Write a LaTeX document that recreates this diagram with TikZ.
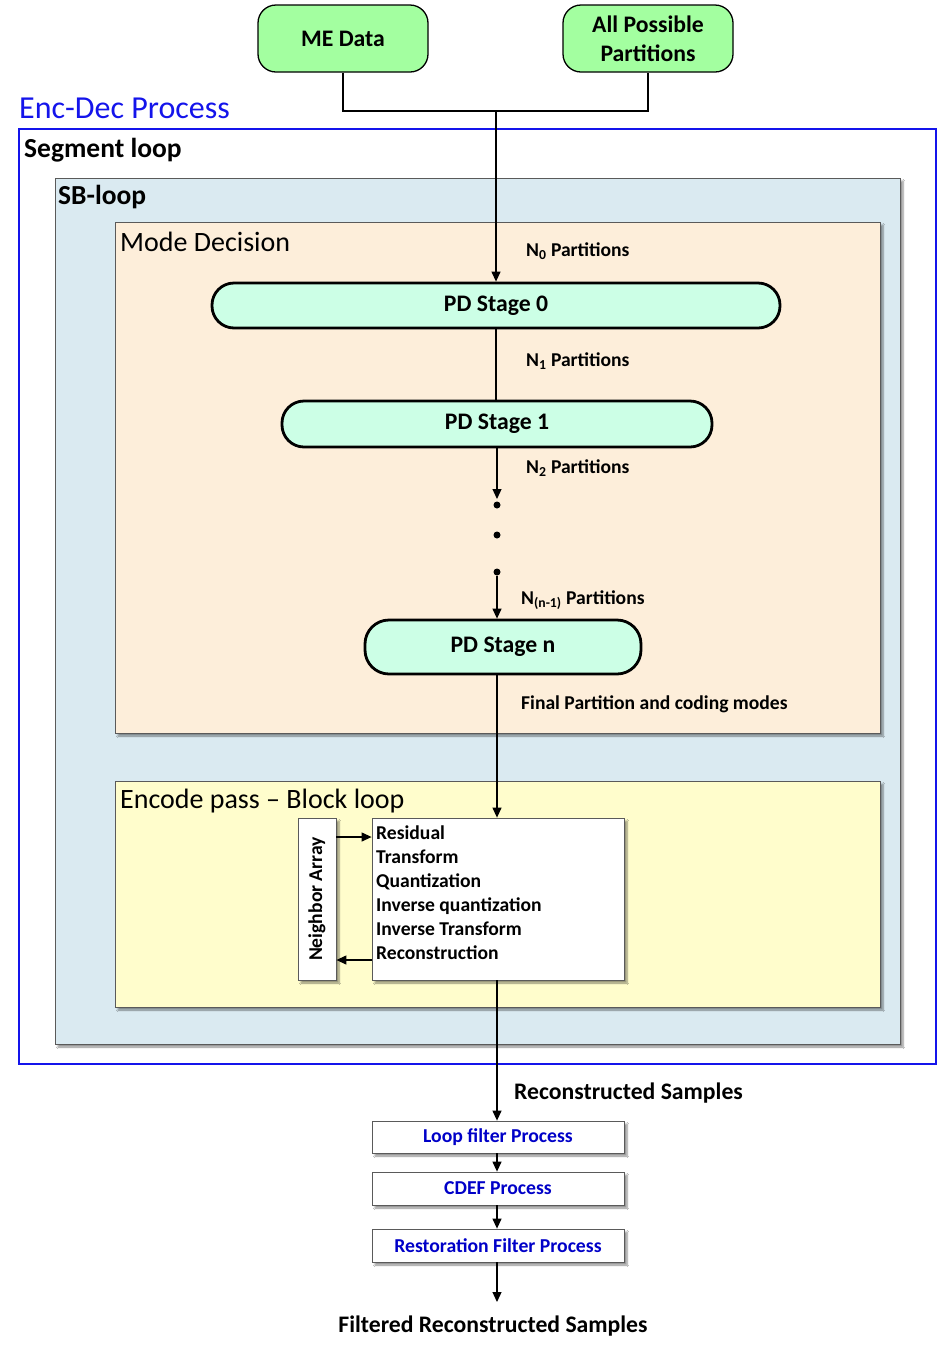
\documentclass[tikz,border=0pt]{standalone}
\usepackage{fontspec}
\setmainfont{Carlito}
\usetikzlibrary{arrows.meta,shadows.blur}
\definecolor{topgreen}{RGB}{163,255,160}
\definecolor{pdfill}{RGB}{204,255,230}
\definecolor{sbfill}{RGB}{218,234,241}
\definecolor{mdfill}{RGB}{253,238,218}
\definecolor{encfill}{RGB}{255,253,204}
\definecolor{frameblue}{RGB}{20,20,235}
\definecolor{procblue}{RGB}{0,0,200}
\definecolor{boxgray}{RGB}{90,90,90}
\newcommand{\fs}[1]{\fontsize{#1}{#1}\selectfont}
\newcommand{\proclines}{\fontsize{19.6}{24}\selectfont\bfseries}
\newcommand{\toplines}{\fontsize{23.7}{29}\selectfont\bfseries}
\tikzset{
  topbox/.style={draw=black, line width=1.3pt, fill=topgreen, rounded corners=18pt,
    minimum width=170pt, minimum height=67pt, align=center, font=\toplines, inner sep=0pt},
  pdbox/.style={draw=black, line width=2.8pt, fill=pdfill, rounded corners=22pt,
    inner sep=0pt, font=\fs{23.7}\bfseries},
  container/.style={draw=boxgray, line width=0.8pt,
    blur shadow={shadow xshift=3pt, shadow yshift=-3pt, shadow blur steps=6, shadow opacity=45}},
  whitebox/.style={draw=boxgray, line width=0.8pt, fill=white, inner sep=0pt,
    blur shadow={shadow xshift=3pt, shadow yshift=-3pt, shadow blur steps=6, shadow opacity=45}},
  heading/.style={anchor=west, inner sep=0pt, font=\fs{28}},
  small/.style={anchor=west, inner sep=0pt, font=\fs{19.6}\bfseries},
  filterlabel/.style={text=procblue, font=\fs{19.7}\bfseries},
  conn/.style={draw=black, line width=1.2pt},
  arr/.style={conn, -{Triangle[length=10pt,width=9pt]}},
  dot/.style={circle, fill=black, inner sep=0pt, minimum size=7pt},
}
\begin{document}
\begin{tikzpicture}[x=1pt,y=-1pt]
\useasboundingbox[fill=white] (0,0) rectangle (939,1353);

% containers
\draw[frameblue, line width=1.5pt] (19,129) rectangle (936,1064);
\draw[container, fill=sbfill] (55,178) rectangle (900,1044);
\draw[container, fill=mdfill] (115,222) rectangle (880,733);
\draw[container, fill=encfill] (115,781) rectangle (880,1007);

\node[heading, text=frameblue, font=\fs{32}] (encdec) at (19,108) {Enc-Dec Process};
\node[heading, font=\fs{27.5}\bfseries] (segloop) at (24,150) {Segment loop};
\node[heading, font=\fs{27.5}\bfseries] (sbloop) at (58,197) {SB-loop};
\node[heading] (modedec) at (120,242) {Mode Decision};
\node[heading] (encpass) at (120,801) {Encode pass – Block loop};

% top inputs
\node[topbox] (me) at (343,38.5) {ME Data};
\node[topbox] (allp) at (648,38.5) {All Possible\\Partitions};
\coordinate (j) at (496,111);

% PD stages
\node[pdbox, minimum width=568pt, minimum height=45pt] (pd0) at (496,305.5) {PD Stage 0};
\node[pdbox, minimum width=430pt, minimum height=46pt] (pd1) at (497,424) {PD Stage 1};
\node[pdbox, minimum width=276pt, minimum height=54pt, rounded corners=24pt] (pdn) at (503,647) {PD Stage n};

\node[dot] (d1) at (497,505) {};
\node[dot] (d2) at (497,535) {};
\node[dot] (d3) at (497,572) {};

\node[small] (n0) at (526,251) {N\textsubscript{0} Partitions};
\node[small] (n1) at (526,361) {N\textsubscript{1} Partitions};
\node[small] (n2) at (526,468) {N\textsubscript{2} Partitions};
\node[small] (nn) at (521,600) {N\textsubscript{(n-1)} Partitions};
\node[small] (final) at (521,704) {Final Partition and coding modes};

% encode pass
\node[whitebox, minimum width=38pt, minimum height=162pt] (nb) at (317,899) {};
\node[rotate=90, font=\fs{19.6}\bfseries, inner sep=0pt] (nbtext) at (nb.center) {Neighbor Array};
\node[whitebox, minimum width=252pt, minimum height=162pt] (proc) at (498,899) {};
\node[anchor=north west, align=left, inner sep=0pt, font=\proclines] (proctext) at (376,826)
  {Residual\\Transform\\Quantization\\Inverse quantization\\Inverse Transform\\Reconstruction};
\coordinate (r1) at (0,837);
\coordinate (r2) at (0,960);

% filters
\node[whitebox, filterlabel, minimum width=252pt, minimum height=32pt] (lf) at (498,1137) {Loop filter Process};
\node[whitebox, filterlabel, minimum width=252pt, minimum height=33pt] (cdef) at (498,1188.5) {CDEF Process};
\node[whitebox, filterlabel, minimum width=252pt, minimum height=33pt] (rest) at (498,1245.5) {Restoration Filter Process};
\coordinate (out) at (497,1302);

\node[small, font=\fs{23.7}\bfseries] (recs) at (514,1093) {Reconstructed Samples};
\node[inner sep=0pt, font=\fs{23.7}\bfseries] (frs) at (493,1326) {Filtered Reconstructed Samples};

% connectors
\draw[conn] (me.south) |- (j) -| (allp.south);
\draw[arr] (j) -- (j |- pd0.north);
\draw[conn] (pd0.south) -- (pd1.north -| pd0.south);
\draw[arr] (pd1.south) -- ([yshift=6pt]d1.center);
\draw[arr] (d3.south) -- (d3 |- pdn.north);
\draw[arr] (d1 |- pdn.south) -- (d1 |- proc.north);
\draw[arr] (nb.east |- r1) -- (proc.west |- r1);
\draw[arr] (proc.west |- r2) -- (nb.east |- r2);
\draw[arr] (d1 |- proc.south) -- (d1 |- lf.north);
\draw[arr] (d1 |- lf.south) -- (d1 |- cdef.north);
\draw[arr] (d1 |- cdef.south) -- (d1 |- rest.north);
\draw[arr] (d1 |- rest.south) -- (out);
\end{tikzpicture}
\end{document}
